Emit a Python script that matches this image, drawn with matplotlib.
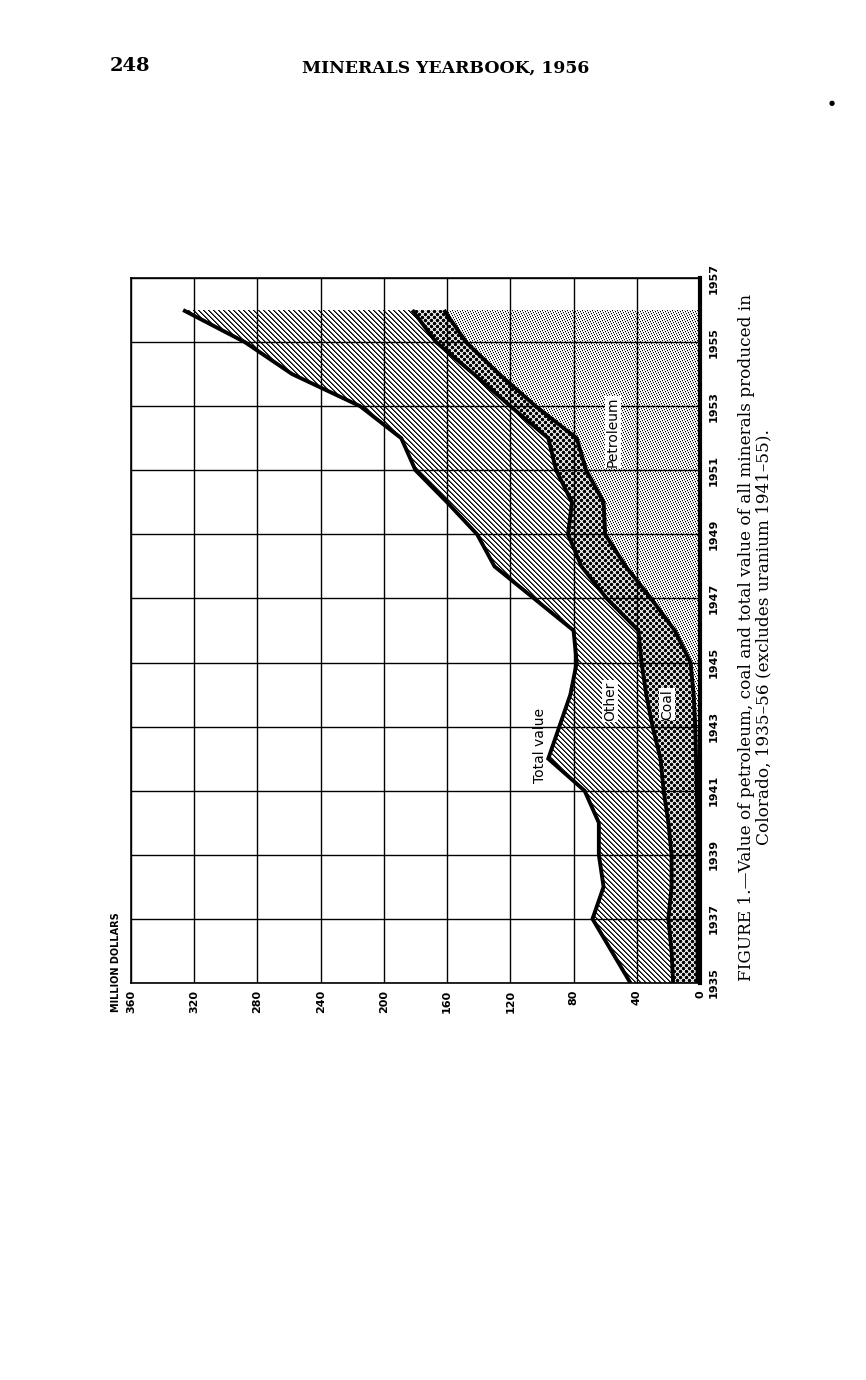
import numpy as np
import matplotlib.pyplot as plt

# values, million dollars
years = list(range(1935, 1957))
petroleum = [1.5, 1.5, 1.5, 1.5, 1.5, 1.5, 2, 2.5, 3, 4, 6, 16,
             31, 47, 60, 61, 72, 78, 104, 127, 148, 162]
coal = [15.5, 16.5, 18.5, 16.5, 16.5, 18.5, 21, 22.5, 27, 30, 31, 23,
        28, 28, 23.5, 20, 19, 18, 16, 16, 19, 20]
total = [44, 56, 68, 61, 64, 64, 73, 96, 89, 82, 78, 80,
         105, 130, 141, 160, 180, 189, 215, 258, 288, 327]

value_ticks = list(range(0, 361, 40))
year_ticks = list(range(1935, 1958, 2))

pet = np.array(petroleum)
pet_coal = pet + np.array(coal)
tot = np.array(total)

plt.rcParams['font.family'] = ['DejaVu Sans']

fig = plt.figure(figsize=(8.66, 13.8), dpi=100)
fig.patch.set_facecolor('white')

# page header
fig.text(110 / 866, 1 - 66 / 1380, "248", family='DejaVu Serif',
         weight='bold', fontsize=14, ha='left', va='center')
fig.text(446 / 866, 1 - 68 / 1380, "MINERALS YEARBOOK, 1956",
         family='DejaVu Serif', weight='bold', fontsize=12.4,
         ha='center', va='center')
fig.text(832 / 866, 1 - 103 / 1380, "\u25cf", fontsize=5,
         ha='center', va='center')

ax = fig.add_axes([131 / 866, 397 / 1380, 569 / 866, 705 / 1380])

# screen textures (one pixel per output pixel) for the three bands
H, W = 705, 569
yy, xx = np.mgrid[0:H, 0:W].astype(float)

# fine stipple
s = (xx + 2 * yy) % 5
stipple = np.ones((H, W))
stipple[s == 0] = 0.0
stipple[s == 2] = 0.75

# coarse checker of dots
P = 6.0
d1 = np.hypot((xx % P) - P / 2, (yy % P) - P / 2)
d2 = np.hypot(((xx + P / 2) % P) - P / 2, ((yy + P / 2) % P) - P / 2)
checker = np.clip(np.minimum(d1, d2) - 1.3, 0, 1)

# diagonal ruling
k = (xx - yy) % 5
ruling = np.ones((H, W))
ruling[k == 0] = 0.0
ruling[k == 1] = 0.35

extent = (360, 0, 1935, 1957)


def band(x1, x2, texture):
    c = ax.fill_betweenx(years, x1, x2, facecolor='none',
                         edgecolor='none', linewidth=0)
    im = ax.imshow(texture, extent=extent, cmap='gray', vmin=0, vmax=1,
                   interpolation='nearest', aspect='auto', zorder=1)
    im.set_clip_path(c.get_paths()[0], ax.transData)
    return im


band(0, pet, stipple)
band(pet, pet_coal, checker)
band(pet_coal, tot, ruling)

for line in (pet, pet_coal, tot):
    ax.plot(line, years, color='black', lw=2.8, zorder=3,
            solid_joinstyle='miter', solid_capstyle='butt')

ax.set_xlim(360, 0)
ax.set_ylim(1935, 1957)
ax.set_xticks(value_ticks)
ax.set_yticks(year_ticks)
ax.yaxis.tick_right()
ax.grid(True, color='black', lw=1.0)
ax.set_axisbelow(False)
ax.tick_params(axis='both', length=0, labelsize=8)
ax.tick_params(axis='x', pad=5, labelrotation=90)
ax.tick_params(axis='y', pad=6, labelrotation=90)
for lab in ax.get_xticklabels() + ax.get_yticklabels():
    lab.set_fontweight('bold')
for lab in ax.get_yticklabels():
    lab.set_va('center')
for sp in ax.spines.values():
    sp.set_linewidth(1.2)
ax.spines['right'].set_linewidth(3)

fig.text(116 / 866, 1 - 1012 / 1380, "MILLION DOLLARS", rotation=90,
         ha='center', va='bottom', fontsize=7, weight='bold')

# labels inside the chart
ax.text(101, 1942.4, "Total value", rotation=90, ha='center',
        va='center', fontsize=10)
box = dict(facecolor='white', edgecolor='none', pad=0.6)
ax.text(57, 1943.8, "Other", rotation=90, ha='center', va='center',
        fontsize=10, bbox=box, zorder=4)
ax.text(21, 1943.7, "Coal", rotation=90, ha='center', va='center',
        fontsize=10, bbox=box, zorder=4)
ax.text(55, 1952.2, "Petroleum", rotation=90, ha='center', va='center',
        fontsize=10, bbox=box, zorder=4)

# caption
fig.text(755 / 866, 1 - 637 / 1380,
         "FIGURE 1.\u2014Value of petroleum, coal and total value of all "
         "minerals produced in\nColorado, 1935\u201356 (excludes uranium "
         "1941\u201355).",
         rotation=90, ha='center', va='center', multialignment='center',
         family='DejaVu Serif', fontsize=12.2, linespacing=1.05)

fig.savefig("out.png", dpi=100)
